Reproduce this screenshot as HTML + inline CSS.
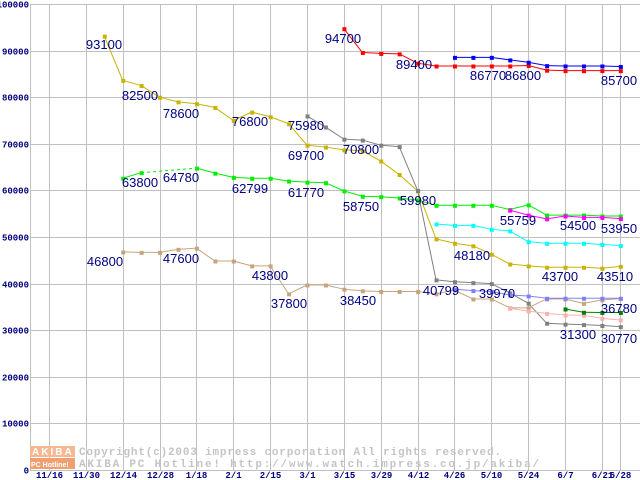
<!DOCTYPE html>
<html><head><meta charset="utf-8">
<style>
html,body{margin:0;padding:0;background:#fff;}
svg{display:block;}
.yt{font:bold 9px "Liberation Mono",monospace;fill:#000080;}
.xt{font:bold 9px "Liberation Mono",monospace;fill:#000080;}
.lb{font:13px "Liberation Sans",sans-serif;fill:#000080;}
.wm{font:bold 11px "Liberation Mono",monospace;fill:#c4c4c4;}
</style></head>
<body>
<svg id="chart" width="640" height="480" viewBox="0 0 640 480" xmlns="http://www.w3.org/2000/svg"></svg>
<script>
// ---- data ----
const yTicks = [0,10000,20000,30000,40000,50000,60000,70000,80000,90000,100000];
const xTickWeeks = [0,2,4,6,8,10,12,14,16,18,20,22,24,26,28,30,31];
const xTickLabels = ["11/16","11/30","12/14","12/28","1/18","2/1","2/15","3/1","3/15","3/29","4/12","4/26","5/10","5/24","6/7","6/21","6/28"];
const seriesNames = ["olive","gray","red","blue","lime","magenta","cyan","tan","lavender","pink","darkgreen"];
const seriesColors = ["#c8b400","#808080","#ff0000","#0000ff","#00ee00","#ff00ff","#00ffff","#c8a47c","#8080ff","#ffb0b0","#008000"];
const olive = [null,null,null,93100,83600,82500,80000,79000,78600,77800,75000,76800,75800,74300,69700,69300,68700,68500,66300,63400,59900,49600,48650,48100,46300,44200,43800,43500,43500,43500,43300,43700];
const gray = [null,null,null,null,null,null,null,null,null,null,null,null,null,null,75980,73600,71000,70800,69700,69400,59980,40800,40400,40200,40000,38000,35800,31500,31300,31200,31000,30770];
const red = [null,null,null,null,null,null,null,null,null,null,null,null,null,null,null,null,94700,89600,89400,89300,87300,86700,86700,86700,86700,86700,86800,85800,85700,85700,85700,85700];
const blue = [null,null,null,null,null,null,null,null,null,null,null,null,null,null,null,null,null,null,null,null,null,null,88550,88550,88550,88000,87500,86770,86700,86700,86700,86600];
const lime = [null,null,null,null,62600,63800,null,null,64780,63700,62799,62600,62600,62000,61770,61650,59900,58750,58650,58370,57900,56800,56800,56800,56800,55900,56900,54700,54700,54700,54500,54500];
const magenta = [null,null,null,null,null,null,null,null,null,null,null,null,null,null,null,null,null,null,null,null,null,null,null,null,null,55759,54700,53900,54500,54200,54200,53950];
const cyan = [null,null,null,null,null,null,null,null,null,null,null,null,null,null,null,null,null,null,null,null,null,52800,52500,52500,51650,51300,49000,48650,48650,48650,48400,48180];
const tan = [null,null,null,null,46800,46700,46700,47350,47600,44850,44850,43800,43800,37800,39700,39700,38800,38450,38300,38300,38300,37800,38600,36700,36700,34800,34800,36700,36700,35750,36500,36780];
const lavender = [null,null,null,null,null,null,null,null,null,null,null,null,null,null,null,null,null,null,null,null,null,null,38800,38500,38300,37550,37350,36850,36850,36850,36850,36850];
const pink = [null,null,null,null,null,null,null,null,null,null,null,null,null,null,null,null,null,null,null,null,null,null,null,null,null,34700,34100,33600,33250,33200,32550,32200];
const darkgreen = [null,null,null,null,null,null,null,null,null,null,null,null,null,null,null,null,null,null,null,null,null,null,null,null,null,null,null,null,34550,33850,33800,33800];
const seriesValues = [olive,gray,red,blue,lime,magenta,cyan,tan,lavender,pink,darkgreen];
const labelTexts = ["93100","82500","78600","76800","75980","69700","70800","94700","89400","86770","86800","85700","63800","64780","62799","61770","58750","59980","55759","54500","53950","48180","43700","43510","46800","47600","43800","37800","38450","40799","39970","36780","31300","30770"];
const labelX = [104,140,181,250,306,306,361,343,414,488,523,619,140,181,250,306,361,418,518,578,619,472,560,615,105,181,270,289,358,441,497,619,578,619];
const labelY = [44,95,113,121,125,155,149,38,64,75,75,80,182,177,188,192,206,200,220,225,228,255,276,276,261,258,275,303,300,290,293,308,334,338];

// ---- axes ----
const X0=49, WSTEP=18.43, Y0=470, YK=0.00466;
function xw(w){return X0+w*WSTEP;}
function yv(v){return Y0-v*YK;}
const NS="http://www.w3.org/2000/svg";
const svg=document.getElementById('chart');
function mk(tag,attrs,parent){const e=document.createElementNS(NS,tag);for(const k in attrs)e.setAttribute(k,attrs[k]);(parent||svg).appendChild(e);return e;}

// grid
const grid=mk('g',{});


yTicks.forEach(t=>{
  const y=Math.round(yv(t))+0.5;
  const l=mk('line',{x1:30,x2:640,y1:y,y2:y,stroke:'#c0c0c0','stroke-width':1},grid);
  
  
  const tx=mk('text',{x:29,y:y+3,'text-anchor':'end',class:'yt'});
  tx.textContent=t;
  
  
});
xTickWeeks.forEach((w,i)=>{
  const x=Math.round(xw(w))+0.5;
  const l=mk('line',{x1:x,x2:x,y1:4,y2:470,stroke:'#c0c0c0','stroke-width':1},grid);
  
  
  const tx=mk('text',{x:x,y:478,'text-anchor':'middle',class:'xt'});
  tx.textContent=xTickLabels[i];
  
  
});
const ax=mk('line',{x1:30.5,x2:30.5,y1:4,y2:470,stroke:'#c0c0c0'});



// watermark
const wm=mk('g',{});


mk('rect',{x:30,y:446,width:45,height:11,fill:'#f5b890'},wm);
mk('rect',{x:30,y:458,width:45,height:11,fill:'#f0a070'},wm);
const a1=mk('text',{x:32,y:455,fill:'#fff',style:'font:bold 10px "Liberation Sans",sans-serif;letter-spacing:2px'},wm);a1.textContent='AKIBA';
const a2=mk('text',{x:31,y:467,fill:'#fff',style:'font:bold 7px "Liberation Sans",sans-serif'},wm);a2.textContent='PC Hotline!';
const c1=mk('text',{x:79,y:455,class:'wm',textLength:422,lengthAdjust:'spacing'},wm);c1.textContent='Copyright(c)2003 impress corporation All rights reserved.';
const c2=mk('text',{x:79,y:467,class:'wm',textLength:460,lengthAdjust:'spacing'},wm);c2.textContent='AKIBA PC Hotline!  http://www.watch.impress.co.jp/akiba/';

// series
seriesValues.forEach((vals,si)=>{
  const g=mk('g',{});
  
  
  const col=seriesColors[si];
  let prev=-1;
  vals.forEach((v,w)=>{
    if(v==null)return;
    if(prev>=0){
      const attrs={x1:xw(prev),y1:yv(vals[prev]),x2:xw(w),y2:yv(v),stroke:col,'stroke-width':1};
      if(w-prev>1)attrs['stroke-dasharray']='3,3';
      const l=mk('line',attrs,g);
      
      
    }
    prev=w;
  });
  vals.forEach((v,w)=>{
    if(v==null)return;
    const r=mk('rect',{x:xw(w)-1.5,y:yv(v)-1.5,width:4,height:4,fill:col},g);
    
    
  });
});

// labels
labelTexts.forEach((t,i)=>{
  const tx=mk('text',{x:labelX[i],y:labelY[i]+5,'text-anchor':'middle',class:'lb'});
  tx.textContent=t;
  
  
});
</script>
</body></html>
